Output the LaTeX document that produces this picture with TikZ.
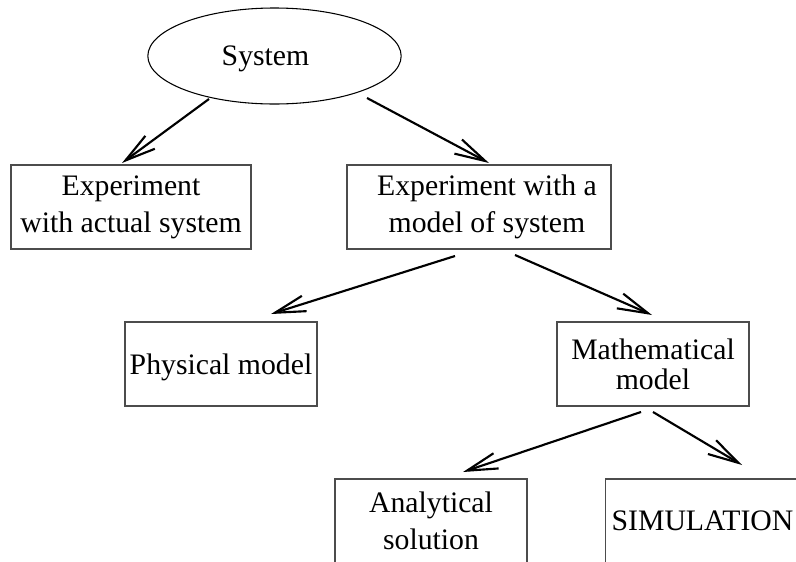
\documentclass[tikz,border=0pt]{standalone}
\usepackage{fontspec}
\setmainfont{Liberation Serif}
\usetikzlibrary{arrows.meta,shapes.geometric}

\tikzset{
  box/.style={draw=black!70,line width=0.8pt,align=center,inner sep=2pt,minimum height=63pt},
  arr/.style={line width=1.6pt,-{Straight Barb[length=23pt,width=12pt]}}
}

\begin{document}
\begin{tikzpicture}[x=0.75pt,y=-0.75pt,font=\fontsize{22.3}{27.75}\selectfont]
\path[use as bounding box,fill=white] (0,0) rectangle (796,561);
\clip (0,0) rectangle (796,561);
\node[ellipse,draw,line width=0.8pt,minimum width=190pt,minimum height=72pt,text depth=0pt] (sys) at (274.5,56) {System\hspace*{13.5pt}};
\node[box,minimum width=180pt] (act) at (131,207) {Experiment\\with actual system};
\node[box,minimum width=198pt] (mod) at (479,207) {\hspace*{12pt}Experiment with a\\\hspace*{12pt}model of system};
\node[box,minimum width=144pt,text depth=0pt] (phys) at (221,364) {Physical model};
\node[box,minimum width=144pt] (math) at (653,364) {Mathematical\\[-5.25pt]model};
\node[box,minimum width=144pt] (anal) at (431,521) {Analytical\\solution};
\node[box,minimum width=146pt] (sim) at (702.5,521) {SIMULATION};
% arrow ends
\coordinate (s1) at (209,99);  \coordinate (e1) at (122,163);
\coordinate (s2) at (367,98);  \coordinate (e2) at (489,163);
\coordinate (s3) at (455,256); \coordinate (e3) at (271,314);
\coordinate (s4) at (515,255); \coordinate (e4) at (652,315);
\coordinate (s5) at (641,412); \coordinate (e5) at (463,472);
\coordinate (s6) at (653,412); \coordinate (e6) at (742,465);
\foreach \a/\b in {s1/e1,s2/e2,s3/e3,s4/e4,s5/e5,s6/e6}{\draw[arr] (\a)--(\b);}
\end{tikzpicture}
\end{document}
